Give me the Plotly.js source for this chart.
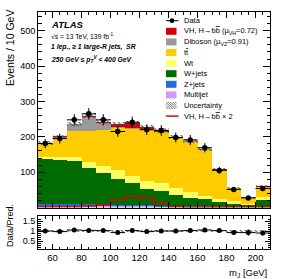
<!DOCTYPE html>
<html><head><meta charset="utf-8">
<script src="https://cdn.plot.ly/plotly-3.0.1.min.js"></script>
<style>html,body{margin:0;padding:0;background:#fff}#chart{width:291px;height:279px}</style>
</head><body><div id="chart"></div>
<script>
// ---- data ----
const binEdges   = [50,60,70,80,90,100,110,120,130,140,150,160,170,180,190,200,210];
const binCenters = [55,65,75,85,95,105,115,125,135,145,155,165,175,185,195,205];
const dataVals   = [181,195,248,265,248,215,241,220,218,198,191,169,105,51,27,54];
const dataErr    = [13,14,16,16,16,15,16,15,15,14,14,13,10,7,5,7];
const multijet   = [5,5,5,4,3,3,3,3,2,2,1,1,1,1,1,1];
const zjets      = [6,6,6,5,4,4,3,3,3,3,2,2,1,1,1,1];
const wjets      = [125,123,121,102,90,75,62,47,41,30,25,20,13,9,6.5,20];
const wt         = [8,10,12,19,19,23,21,22,22,20,15,9,10,7,1.5,7];
const ttbar      = [37,54,72,85,103,120,134,144,145,143,143,132,81,36,18,29];
const diboson    = [1,2,19,42,20,4,2,1,1,1,1,1,1,1,0.5,1];
const vh         = [1,1,1,2,4,8,13,8,4,1,1,1,1,1,0.5,1];
const vhx2       = [2,2,2,4,7,21,32,27,12,2,1,1,1,1,1,1];
const uncert     = [5,5,6,7,6,6,6,6,6,6,6,5,4,3,2,3];
const ratioVals  = [1.0,0.97,1.05,1.03,1.02,0.92,1.02,0.97,1.0,1.0,1.02,1.05,1.02,0.92,0.92,0.9];
const ratioErr   = [0.07,0.07,0.07,0.06,0.06,0.07,0.07,0.07,0.07,0.07,0.07,0.08,0.09,0.12,0.17,0.12];
const ratioUnc   = [0.03,0.03,0.03,0.03,0.03,0.03,0.03,0.03,0.03,0.03,0.03,0.03,0.04,0.05,0.07,0.05];
const xTicks     = [60,80,100,120,140,160,180,200];
const yTicks     = [100,200,300,400,500];
const rTicks     = [0.5,1,1.5];

const FONT = 'Liberation Sans, Arial, sans-serif';
const C = {mj:'#CC99FF', z:'#1F6FD6', w:'#006B00', wt:'#FFFF66', tt:'#FFCC00', vv:'#999999', vh:'#D40000', vh2:'#E80000'};

// stacked components (bottom -> top)
const comps = [
  {v:multijet, c:C.mj}, {v:zjets, c:C.z}, {v:wjets, c:C.w}, {v:wt, c:C.wt},
  {v:ttbar, c:C.tt}, {v:diboson, c:C.vv}, {v:vh, c:C.vh}
];
const traces = [];
let cum = binCenters.map(()=>0);
comps.forEach(cp => {
  traces.push({type:'bar', x:binCenters, y:cp.v, base:cum.slice(), width:10,
    marker:{color:cp.c, line:{width:0}}, xaxis:'x', yaxis:'y', hoverinfo:'skip'});
  cum = cum.map((b,i)=>b+cp.v[i]);
});
const total = cum;
// uncertainty hatch
traces.push({type:'bar', x:binCenters, y:uncert.map(u=>2*u), base:total.map((t,i)=>t-uncert[i]), width:10,
  marker:{color:'#444444', line:{width:0}, pattern:{shape:'\\', size:3.5, solidity:0.3, fillmode:'replace'}},
  xaxis:'x', yaxis:'y', hoverinfo:'skip'});
// VH x2 line (step)
traces.push({type:'scatter', mode:'lines', x:binEdges, y:vhx2.concat([vhx2[vhx2.length-1]]),
  line:{shape:'hv', color:C.vh2, width:1.5}, xaxis:'x', yaxis:'y', hoverinfo:'skip'});
// data
traces.push({type:'scatter', mode:'markers', x:binCenters, y:dataVals,
  marker:{color:'black', size:5.5},
  error_y:{type:'data', array:dataErr, color:'black', thickness:1, width:0},
  error_x:{type:'constant', value:5, color:'black', thickness:1, width:0},
  xaxis:'x', yaxis:'y', hoverinfo:'skip'});
// ratio band
traces.push({type:'bar', x:binCenters, y:ratioUnc.map(u=>2*u), base:ratioUnc.map(u=>1-u), width:10,
  marker:{color:'#444444', line:{width:0}, pattern:{shape:'\\', size:3.5, solidity:0.3, fillmode:'replace'}},
  xaxis:'x2', yaxis:'y2', hoverinfo:'skip'});
traces.push({type:'scatter', mode:'markers', x:binCenters, y:ratioVals,
  marker:{color:'black', size:5},
  error_y:{type:'data', array:ratioErr, color:'black', thickness:1, width:0},
  error_x:{type:'constant', value:5, color:'black', thickness:1, width:0},
  xaxis:'x2', yaxis:'y2', hoverinfo:'skip'});

// layout geometry (pixels)
const W=291, H=279, L=38, R=21, T=12, B=30;
const PW = W-L-R, PH = H-T-B;
const px = p => (p-L)/PW;
const py = p => (H-B-p)/PH;

const axCommon = {showline:true, linecolor:'black', linewidth:1, mirror:'allticks', ticks:'inside',
  tickcolor:'black', showgrid:false, zeroline:false, tickfont:{family:FONT, size:9, color:'black'}};

const shapes = [], annotations = [];
const BBAR = 'b<span style="text-decoration:overline">b</span>';
// legend
const legY0 = 20.7, legStep = 10.6;
const legend = [
  {t:'data', label:'Data'},
  {t:'box', c:C.vh, label:'VH, H→'+BBAR+' (μ<sub>VH</sub>=0.72)'},
  {t:'box', c:C.vv, label:'Diboson (μ<sub>VZ</sub>=0.91)'},
  {t:'box', c:C.tt, label:'t<span style="text-decoration:overline">t</span>'},
  {t:'box', c:C.wt, label:'Wt'},
  {t:'box', c:C.w, label:'W+jets'},
  {t:'box', c:C.z, label:'Z+jets'},
  {t:'box', c:C.mj, label:'Multijet'},
  {t:'hatch', label:'Uncertainty'},
  {t:'line', c:C.vh2, label:'VH, H→'+BBAR+' × 2'}
];
legend.forEach((it,i)=>{
  const yc = legY0 + i*legStep;
  const x0=166, x1=176.5;
  if (it.t==='box') {
    shapes.push({type:'rect', xref:'paper', yref:'paper', x0:px(x0), x1:px(x1), y0:py(yc+3.5), y1:py(yc-3.5),
      fillcolor:it.c, line:{width:0}});
  } else if (it.t==='line') {
    shapes.push({type:'line', xref:'paper', yref:'paper', x0:px(x0), x1:px(x1+2), y0:py(yc), y1:py(yc),
      line:{color:it.c, width:1.5}});
  } else if (it.t==='data') {
    shapes.push({type:'line', xref:'paper', yref:'paper', x0:px(x0), x1:px(x1+2), y0:py(yc), y1:py(yc),
      line:{color:'black', width:1}});
    shapes.push({type:'circle', xref:'paper', yref:'paper', x0:px(172-2.4), x1:px(172+2.4), y0:py(yc+2.4), y1:py(yc-2.4),
      fillcolor:'black', line:{width:0}});
  } else if (it.t==='hatch') {
    let d='';
    for (let k=-7; k<=10.5; k+=2.3) {
      let ax=x0+k, ay=yc-3.5, bx=x0+k+7, by=yc+3.5;
      if (ax<x0){ ay += (x0-ax); ax=x0; }
      if (bx>x1){ by -= (bx-x1); bx=x1; }
      if (ay<by) d += `M${px(ax)},${py(ay)} L${px(bx)},${py(by)} `;
    }
    shapes.push({type:'path', xref:'paper', yref:'paper', path:d, line:{color:'#555', width:0.8}});
  }
  annotations.push({xref:'paper', yref:'paper', x:px(182), y:py(yc), xanchor:'left', yanchor:'middle',
    text:it.label, showarrow:false, font:{family:FONT, size:7.5, color:'black'}});
});
// ATLAS labels
const lab = [
  {y:24, text:'<b><i>ATLAS</i></b>', s:9.5},
  {y:35.5, text:'√s = 13 TeV, 139 fb<sup>-1</sup>', s:6.8},
  {y:47, text:'<b><i>1 lep., ≥ 1 large-R jets,  SR</i></b>', s:6.8},
  {y:59, text:'<b><i>250 GeV ≤ p<sub>T</sub><sup>V</sup> &lt; 400 GeV</i></b>', s:6.8}
];
lab.forEach(a=>annotations.push({xref:'paper', yref:'paper', x:px(49), y:py(a.y), xanchor:'left', yanchor:'middle',
  text:a.text, showarrow:false, font:{family:FONT, size:a.s, color:'black'}}));
// axis titles
annotations.push({xref:'paper', yref:'paper', x:px(2), y:py(8), xanchor:'left', yanchor:'top', textangle:-90,
  text:'Events / 10 GeV', showarrow:false, font:{family:FONT, size:10.5, color:'black'}});
annotations.push({xref:'paper', yref:'paper', x:px(3), y:py(226), xanchor:'left', yanchor:'middle', textangle:-90,
  text:'Data/Pred.', showarrow:false, font:{family:FONT, size:9, color:'black'}});
annotations.push({xref:'paper', yref:'paper', x:px(269), y:py(273), xanchor:'right', yanchor:'middle',
  text:'m<sub>J</sub> [GeV]', showarrow:false, font:{family:FONT, size:9.5, color:'black'}});

const layout = {
  width:W, height:H, margin:{l:L, r:R, t:T, b:B}, paper_bgcolor:'white', plot_bgcolor:'white',
  showlegend:false, barmode:'overlay', bargap:0,
  xaxis:Object.assign({}, axCommon, {domain:[0,1], range:[50,210], anchor:'y', tickvals:xTicks, showticklabels:false,
    ticklen:6, minor:{dtick:5, tick0:0, ticks:'inside', ticklen:3, tickcolor:'black'}}),
  yaxis:Object.assign({}, axCommon, {domain:[py(207.5),1], range:[0,553], anchor:'x', tickvals:yTicks,
    ticklen:7, minor:{dtick:20, tick0:0, ticks:'inside', ticklen:3.5, tickcolor:'black'}}),
  xaxis2:Object.assign({}, axCommon, {domain:[0,1], range:[50,210], anchor:'y2', tickvals:xTicks,
    ticklen:5, minor:{dtick:5, tick0:0, ticks:'inside', ticklen:2.5, tickcolor:'black'},
    tickfont:{family:FONT, size:9.5, color:'black'}}),
  yaxis2:Object.assign({}, axCommon, {domain:[0,py(216)], range:[0.1,1.75], anchor:'x2', tickvals:rTicks, ticktext:['0.5','1','1.5'],
    ticklen:5, minor:{dtick:0.1, tick0:0, ticks:'inside', ticklen:2.5, tickcolor:'black'}}),
  shapes:shapes, annotations:annotations
};
Plotly.newPlot('chart', traces, layout, {staticPlot:true, displayModeBar:false});
</script></body></html>
